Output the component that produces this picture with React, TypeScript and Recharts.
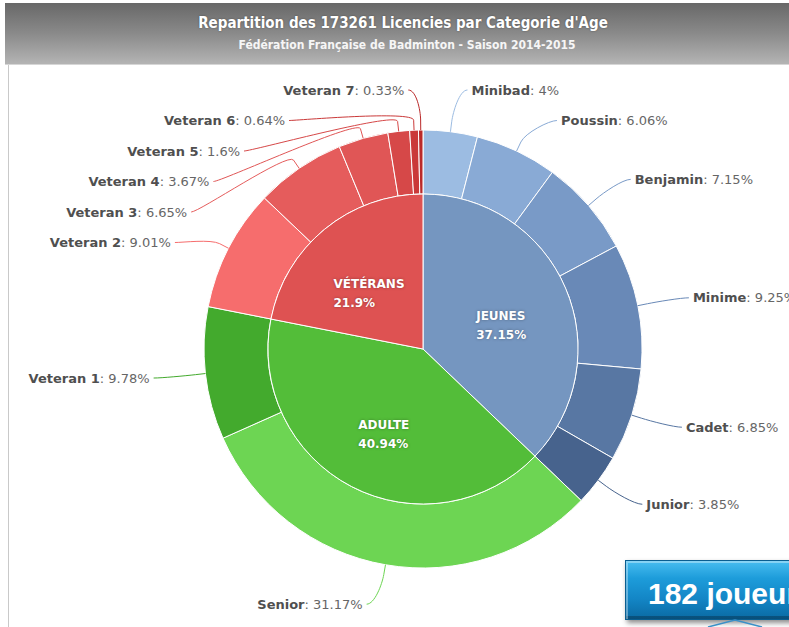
import { Cell, Pie, PieChart } from "recharts";

// Inner ring: age groups
const groupNames = ["JEUNES", "ADULTE", "VÉTÉRANS"];
const groupShares = [37.15, 40.94, 21.9];
const groupColors = ["#7596c0", "#53bd39", "#de5252"];

// Outer ring: age categories
const categoryNames = [
  "Minibad",
  "Poussin",
  "Benjamin",
  "Minime",
  "Cadet",
  "Junior",
  "Senior",
  "Veteran 1",
  "Veteran 2",
  "Veteran 3",
  "Veteran 4",
  "Veteran 5",
  "Veteran 6",
  "Veteran 7",
];
const categoryShares = [4, 6.06, 7.15, 9.25, 6.85, 3.85, 31.17, 9.78, 9.01, 6.65, 3.67, 1.6, 0.64, 0.33];
const categoryColors = [
  "#9cbce2",
  "#89aad5",
  "#799ac7",
  "#6989b7",
  "#5877a3",
  "#47638d",
  "#6dd553",
  "#43aa2d",
  "#f66d6d",
  "#e55c5c",
  "#e05656",
  "#d64848",
  "#ca3939",
  "#ba2a2a",
];

const TITLE = "Repartition des 173261 Licencies par Categorie d'Age";
const SUBTITLE = "Fédération Française de Badminton - Saison 2014-2015";
const BADGE = "182 joueurs";

const WIDTH = 789;
const HEIGHT = 627;
const CX = 423;
const CY = 349;
const INNER_R = 155;
const OUTER_R = 219;
const LABEL_R = 259;
const LABEL_GAP = 30.5;
const LABEL_PAD = 16;
const INNER_LABEL_R = 85;
const LABEL_FONT = "'DejaVu Sans', Verdana, sans-serif";

interface OuterLabel {
  theta: number;
  right: boolean;
  nx: number;
  ny: number;
  y: number;
  tx: number;
}

/** Highcharts-like placement: labels on two sides, pushed apart when they crowd. */
function layoutOuterLabels(): OuterLabel[] {
  const total = categoryShares.reduce((a, b) => a + b, 0);
  let acc = 0;
  const items: OuterLabel[] = categoryShares.map((v) => {
    const theta = ((acc + v / 2) / total) * 2 * Math.PI;
    acc += v;
    const sin = Math.sin(theta);
    const cos = Math.cos(theta);
    return { theta, right: sin >= 0, nx: LABEL_R * sin, ny: -LABEL_R * cos, y: 0, tx: 0 };
  });

  for (const side of [true, false]) {
    const list = items.filter((it) => it.right === side).sort((a, b) => a.ny - b.ny);
    const groups: OuterLabel[][] = list.map((it) => [it]);
    const place = (g: OuterLabel[]) => {
      let top = g.reduce((s, it, k) => s + it.ny - k * LABEL_GAP, 0) / g.length;
      top = Math.max(-LABEL_R, Math.min(LABEL_R - (g.length - 1) * LABEL_GAP, top));
      g.forEach((it, k) => (it.y = top + k * LABEL_GAP));
    };
    let merged = true;
    while (merged) {
      merged = false;
      groups.forEach(place);
      for (let k = 0; k < groups.length - 1; k++) {
        const a = groups[k];
        const b = groups[k + 1];
        if (b[0].y - a[a.length - 1].y < LABEL_GAP - 0.01) {
          groups.splice(k, 2, [...a, ...b]);
          merged = true;
          break;
        }
      }
    }
  }

  items.forEach((it) => {
    const edge = Math.max(Math.sqrt(Math.max(0, LABEL_R * LABEL_R - it.y * it.y)), Math.abs(it.nx));
    it.tx = (it.right ? 1 : -1) * (edge + LABEL_PAD);
  });
  return items;
}

const outerLabels = layoutOuterLabels();

let measureCtx: CanvasRenderingContext2D | null = null;
function textWidth(text: string, font: string): number {
  if (!measureCtx) measureCtx = document.createElement("canvas").getContext("2d");
  if (!measureCtx) return text.length * 8;
  measureCtx.font = font;
  return measureCtx.measureText(text).width;
}

function renderOuterLabel(props: any) {
  const { cx, cy, index } = props;
  const p = outerLabels[index];
  const dir = p.right ? 1 : -1;
  const sin = Math.sin(p.theta);
  const cos = Math.cos(p.theta);
  const bx = cx + OUTER_R * sin;
  const by = cy - OUTER_R * cos;
  const kx = cx + (OUTER_R + 10) * sin;
  const ky = cy - (OUTER_R + 10) * cos;
  const tx = cx + p.tx;
  const ty = cy + p.y;
  const path = `M${tx - dir * 4},${ty} C${tx - dir * 12},${ty} ${2 * kx - bx},${2 * ky - by} ${kx},${ky} L${bx},${by}`;
  return (
    <g key={`outer-label-${index}`}>
      <path d={path} fill="none" stroke={categoryColors[index]} strokeWidth={1} />
      <text
        x={tx}
        y={ty}
        dy="0.35em"
        textAnchor={p.right ? "start" : "end"}
        fontFamily={LABEL_FONT}
        fontSize={13}
      >
        <tspan fontWeight="bold" fill="#4f4f4f">
          {categoryNames[index]}
        </tspan>
        <tspan fill="#666">: {categoryShares[index]}%</tspan>
      </text>
    </g>
  );
}

function renderInnerLabel(props: any) {
  const { cx, cy, index } = props;
  const total = groupShares.reduce((a, b) => a + b, 0);
  const before = groupShares.slice(0, index).reduce((a, b) => a + b, 0);
  const theta = ((before + groupShares[index] / 2) / total) * 2 * Math.PI;
  const line1 = groupNames[index];
  const line2 = `${groupShares[index]}%`;
  const font = `bold 12px ${LABEL_FONT}`;
  const w = Math.max(textWidth(line1, font), textWidth(line2, font));
  const x = cx + INNER_LABEL_R * Math.sin(theta) - w / 2;
  const y = cy - INNER_LABEL_R * Math.cos(theta) + 7;
  return (
    <text
      key={`inner-label-${index}`}
      x={x}
      y={y}
      fontFamily={LABEL_FONT}
      fontSize={12}
      fontWeight="bold"
      fill="#ffffff"
      style={{ textShadow: "0 0 3px rgba(0,0,0,0.35)" }}
    >
      <tspan x={x} dy="-0.2em">
        {line1}
      </tspan>
      <tspan x={x} dy="1.55em">
        {line2}
      </tspan>
    </text>
  );
}

export default function App() {
  const innerData = groupNames.map((name, i) => ({ name, value: groupShares[i] }));
  const outerData = categoryNames.map((name, i) => ({ name, value: categoryShares[i] }));

  return (
    <div
      style={{
        position: "absolute",
        left: 0,
        top: 0,
        width: WIDTH,
        height: HEIGHT,
        overflow: "hidden",
        background: "#ffffff",
      }}
    >
      {/* title bar */}
      <div
        style={{
          position: "absolute",
          left: 5,
          top: 3,
          width: WIDTH,
          height: 61,
          background: "linear-gradient(#686868 0%, #8a8a8a 50%, #b4b4b4 100%)",
          borderBottom: "1px solid #d6d6d6",
          color: "#ffffff",
          textAlign: "center",
          fontFamily: "'DejaVu Sans Condensed', 'DejaVu Sans', sans-serif",
          fontStretch: "condensed",
        }}
      >
        <div
          style={{
            position: "absolute",
            left: 0,
            width: 796,
            top: 11,
            fontSize: 15,
            fontWeight: "bold",
            textShadow: "0 0 2px rgba(0,0,0,0.4)",
          }}
        >
          {TITLE}
        </div>
        <div
          style={{
            position: "absolute",
            left: 0,
            width: 804,
            top: 35,
            fontSize: 12,
            fontWeight: "bold",
            color: "#f6f6f6",
          }}
        >
          {SUBTITLE}
        </div>
      </div>
      {/* panel border */}
      <div
        style={{
          position: "absolute",
          left: 8,
          top: 65,
          width: 0,
          height: HEIGHT - 65,
          borderLeft: "1px solid #c9c9c9",
        }}
      />

      <div style={{ position: "absolute", left: 0, top: 0 }}>
        <PieChart width={WIDTH} height={HEIGHT} margin={{ top: 0, right: 0, bottom: 0, left: 0 }}>
          <Pie
            data={outerData}
            dataKey="value"
            nameKey="name"
            cx={CX}
            cy={CY}
            innerRadius={INNER_R}
            outerRadius={OUTER_R}
            startAngle={90}
            endAngle={-270}
            stroke="#ffffff"
            strokeWidth={1}
            label={renderOuterLabel}
            labelLine={false}
            isAnimationActive={false}
          >
            {outerData.map((d, i) => (
              <Cell key={d.name} fill={categoryColors[i]} />
            ))}
          </Pie>
          <Pie
            data={innerData}
            dataKey="value"
            nameKey="name"
            cx={CX}
            cy={CY}
            outerRadius={INNER_R}
            startAngle={90}
            endAngle={-270}
            stroke="#ffffff"
            strokeWidth={1}
            label={renderInnerLabel}
            labelLine={false}
            isAnimationActive={false}
          >
            {innerData.map((d, i) => (
              <Cell key={d.name} fill={groupColors[i]} />
            ))}
          </Pie>
        </PieChart>
      </div>

      {/* badge overlay */}
      <div
        style={{
          position: "absolute",
          left: 625,
          top: 560,
          width: 200,
          height: 58,
          background: "linear-gradient(#48bdf0 0%, #1d9cda 30%, #1386c6 65%, #0b6aa3 100%)",
          border: "1px solid #0a5e90",
          boxShadow:
            "inset 2px 2px 0 rgba(255,255,255,0.35), inset -2px -3px 0 rgba(0,0,0,0.25), 2px 3px 5px rgba(0,0,0,0.45)",
        }}
      >
        <span
          style={{
            position: "absolute",
            left: 22,
            top: 18,
            lineHeight: "30px",
            fontFamily: "'Liberation Sans', Arial, sans-serif",
            fontWeight: "bold",
            fontSize: 30,
            color: "#ffffff",
            whiteSpace: "nowrap",
          }}
        >
          {BADGE}
        </span>
      </div>
      <svg style={{ position: "absolute", left: 700, top: 618 }} width={70} height={9}>
        <polyline points="8,9 35,2 62,9" fill="none" stroke="#3a90c8" strokeWidth={1.5} />
      </svg>
    </div>
  );
}
